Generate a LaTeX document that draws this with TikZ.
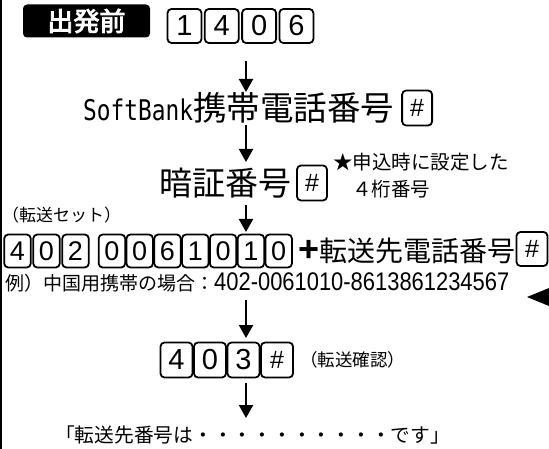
\documentclass[tikz,border=0pt]{standalone}
\usepackage{fontspec}
\usetikzlibrary{arrows.meta,positioning}
\newfontfamily\jp{Noto Sans CJK JP}
\newfontfamily\jpbold[FakeBold=3.5]{Noto Sans CJK JP}
\newfontfamily\digitfam{Liberation Sans}
\newfontfamily\digitcond[FakeStretch=0.86]{Liberation Sans}
\newfontfamily\monofam[FakeStretch=0.8]{DejaVu Sans Mono}
\newcommand{\fs}[1]{\fontsize{#1}{#1}\selectfont}
\begin{document}
\begin{tikzpicture}[x=1pt,y=-1pt,
  keybase/.style={draw,line width=1.8pt,rounded corners=4pt,fill=white,inner sep=0pt},
  keyA/.style={keybase,minimum width=34pt,minimum height=34pt,font=\digitfam\fs{29}},
  keyB/.style={keybase,minimum width=26.5pt,minimum height=33pt,font=\digitfam\fs{27}},
  keyC/.style={keybase,minimum width=32pt,minimum height=35pt,font=\digitfam\fs{29}},
  hashkey/.style={keybase,minimum width=30pt,minimum height=35pt,font=\digitfam\fs{25}},
  jtext/.style={inner sep=0pt,anchor=west},
  flow/.style={line width=2.2pt,-{Triangle[width=14pt,length=13pt]}}
]
\useasboundingbox (0,0) rectangle (549,449);
\draw[line width=1.5pt] (1,0) -- (1,449);

% row 1
\node[fill=black,rounded corners=4pt,minimum width=127pt,minimum height=33pt,inner sep=0pt,
  text=white,font=\jpbold\fs{26}] (dep) at (86.5,21) {出発前};
\node[keyA] (k1) at (184.5,26) {1};
\node[keyA] (k2) at (221.8,26) {4};
\node[keyA] (k3) at (259.1,26) {0};
\node[keyA] (k4) at (296.4,26) {6};

\coordinate (a1s) at (246,61);
\coordinate (a1e) at (246,92);
\draw[flow] (a1s) -- (a1e);

% row 2
\node[jtext] (sb) at (83,108) {{\monofam\fs{28.5}SoftBank}{\jp\fs{33.5}携帯電話番号}};
\node[hashkey,right=7pt of sb] (h1) {\#};

\coordinate (a2s) at (246,125);
\coordinate (a2e) at (246,162);
\draw[flow] (a2s) -- (a2e);

% row 3
\node[inner sep=0pt,anchor=east,font=\jp\fs{33}] (pin) at (292,183) {暗証番号};
\node[hashkey] (h2) at (312,183) {\#};
\node[jtext,font=\jp\fs{19.5}] (note1) at (333,162) {★申込時に設定した};
\node[jtext,font=\jp\fs{19.5}] (note2) at (352,189) {４桁番号};

\coordinate (a3s) at (246,205);
\coordinate (a3e) at (246,232);
\draw[flow] (a3s) -- (a3e);

\node[jtext,font=\jp\fs{17}] (set) at (2,215) {（転送セット）};

% row 4
\node[keyB] (r4a) at (17.5,251) {4};
\node[keyB] (r4b) at (46.5,251) {0};
\node[keyB] (r4c) at (75.5,251) {2};
\node[keyB] (r4d) at (111.9,251) {0};
\node[keyB] (r4e) at (139.7,251) {0};
\node[keyB] (r4f) at (167.5,251) {6};
\node[keyB] (r4g) at (195.3,251) {1};
\node[keyB] (r4h) at (223.1,251) {0};
\node[keyB] (r4i) at (250.9,251) {1};
\node[keyB] (r4j) at (278.7,251) {0};
\node[jtext] (dest) at (298,251) {{\digitfam\bfseries\fs{36}+}{\jp\fs{28}転送先電話番号}};
\node[hashkey,minimum width=31pt,minimum height=34pt] (h3) at (532,249) {\#};

\node[jtext] (ex) at (5,283) {{\jp\fs{19}例）中国用携帯の場合：}{\digitcond\fs{25.5}402-0061010-8613861234567}};

\fill (527,297) -- (549,288) -- (549,306) -- cycle;

\coordinate (a4s) at (246,300);
\coordinate (a4e) at (246,338);
\draw[flow] (a4s) -- (a4e);

% row 5
\node[keyC] (c1) at (176.5,360) {4};
\node[keyC] (c2) at (210,360) {0};
\node[keyC] (c3) at (243.5,360) {3};
\node[keyC,font=\digitfam\fs{25}] (c4) at (277,360) {\#};
\node[jtext,font=\jp\fs{17.5}] (conf) at (300,360) {（転送確認）};

\coordinate (a5s) at (246,383);
\coordinate (a5e) at (246,418);
\draw[flow] (a5s) -- (a5e);

\node[jtext,font=\jp\fs{19.75}] (res) at (55,435) {「転送先番号は・・・・・・・・・・です」};
\end{tikzpicture}
\end{document}
